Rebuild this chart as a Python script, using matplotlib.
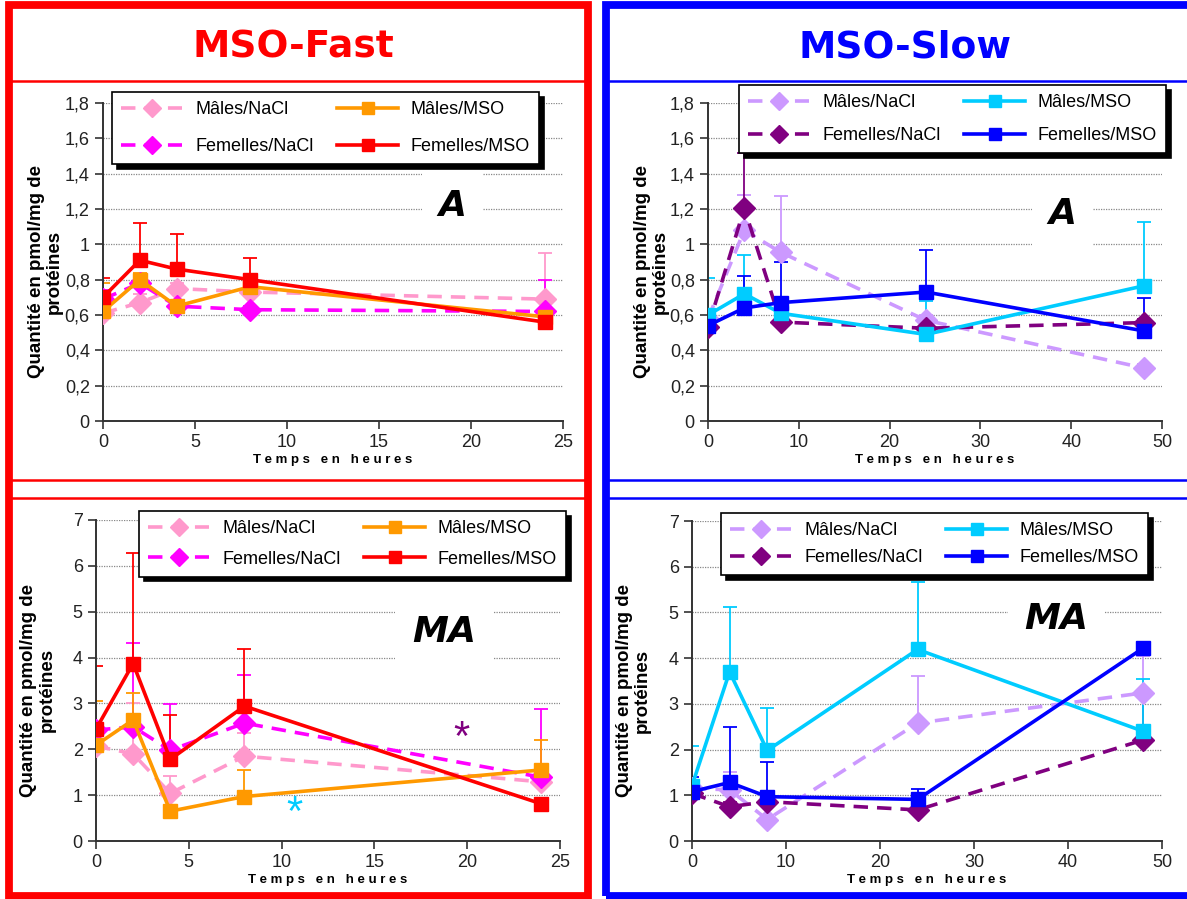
import matplotlib.pyplot as plt
from matplotlib.patches import Rectangle
from matplotlib.lines import Line2D
from matplotlib.ticker import FuncFormatter

plt.rcParams['font.family'] = ['Liberation Sans', 'DejaVu Sans']

labels = ['Mâles/NaCl', 'Femelles/NaCl', 'Mâles/MSO', 'Femelles/MSO']

# MSO-Fast: temps en heures
t_fast = [0, 2, 4, 8, 24]
# MSO-Slow
t_slow = [0, 4, 8, 24, 48]

# A, MSO-Fast (moyenne, erreur haute)
fast_A_m_nacl = [0.61, 0.67, 0.75, 0.73, 0.69]
fast_A_m_nacl_err = [0.04, 0.05, 0.03, 0.03, 0.26]
fast_A_f_nacl = [0.69, 0.78, 0.65, 0.63, 0.62]
fast_A_f_nacl_err = [0.05, 0.04, 0.03, 0.02, 0.18]
fast_A_m_mso = [0.62, 0.80, 0.65, 0.76, 0.59]
fast_A_m_mso_err = [0.16, 0.04, 0.03, 0.03, 0.02]
fast_A_f_mso = [0.70, 0.91, 0.86, 0.80, 0.56]
fast_A_f_mso_err = [0.11, 0.21, 0.20, 0.12, 0.02]

# A, MSO-Slow
slow_A_m_nacl = [0.58, 1.08, 0.955, 0.57, 0.30]
slow_A_m_nacl_err = [0.02, 0.20, 0.32, 0.03, 0.02]
slow_A_f_nacl = [0.53, 1.205, 0.56, 0.525, 0.557]
slow_A_f_nacl_err = [0.02, 0.31, 0.02, 0.02, 0.02]
slow_A_m_mso = [0.60, 0.72, 0.61, 0.49, 0.765]
slow_A_m_mso_err = [0.21, 0.22, 0.02, 0.19, 0.36]
slow_A_f_mso = [0.54, 0.64, 0.67, 0.73, 0.51]
slow_A_f_mso_err = [0.02, 0.18, 0.23, 0.24, 0.185]

# MA, MSO-Fast
fast_MA_m_nacl = [2.07, 1.90, 1.04, 1.85, 1.29]
fast_MA_m_nacl_err = [0.10, 1.12, 0.38, 0.50, 0.30]
fast_MA_f_nacl = [2.42, 2.49, 1.98, 2.57, 1.39]
fast_MA_f_nacl_err = [0.10, 1.82, 1.01, 1.04, 1.48]
fast_MA_m_mso = [2.09, 2.64, 0.65, 0.97, 1.55]
fast_MA_m_mso_err = [0.97, 0.58, 0.10, 0.58, 0.65]
fast_MA_f_mso = [2.44, 3.87, 1.78, 2.94, 0.81]
fast_MA_f_mso_err = [1.38, 2.40, 0.97, 1.25, 0.10]

# MA, MSO-Slow
slow_MA_m_nacl = [1.15, 1.12, 0.47, 2.58, 3.24]
slow_MA_m_nacl_err = [0.10, 0.40, 0.10, 1.02, 0.80]
slow_MA_f_nacl = [1.04, 0.75, 0.86, 0.68, 2.21]
slow_MA_f_nacl_err = [0.10, 0.10, 0.10, 0.10, 1.00]
slow_MA_m_mso = [1.21, 3.70, 1.98, 4.19, 2.40]
slow_MA_m_mso_err = [0.86, 1.41, 0.94, 1.47, 1.15]
slow_MA_f_mso = [1.08, 1.28, 0.97, 0.91, 4.22]
slow_MA_f_mso_err = [0.33, 1.21, 0.75, 0.22, 0.10]

fast_colors = ['#FF99CC', '#FF00FF', '#FF9900', '#FF0000']
slow_colors = ['#CC99FF', '#800080', '#00CCFF', '#0000FF']
styles = [('D', (0, (4, 2.5))), ('D', (0, (4, 2.5))), ('s', '-'), ('s', '-')]


def comma(v, pos):
    s = f'{v:g}'
    return s.replace('.', ',')


def panel(rect, t, series, errs, colors, ylim, yticks, xticks, letter, letter_xy,
          leg_anchor, leg_space):
    ax = fig.add_axes(rect)
    for (y, e, c, (mk, ls), lab) in zip(series, errs, colors, styles, labels):
        ax.errorbar(t, y, yerr=[[0] * len(e), e], fmt='none', ecolor=c,
                    elinewidth=1.3, capsize=5, capthick=1.3, zorder=2)
        ax.plot(t, y, color=c, ls=ls, lw=2.6, marker=mk,
                ms=11 if mk == 'D' else 10, label=lab, zorder=3)
    ax.set_ylim(*ylim)
    ax.set_xlim(xticks[0], xticks[-1])
    ax.set_yticks(yticks)
    ax.set_xticks(xticks)
    ax.yaxis.set_major_formatter(FuncFormatter(comma))
    ax.grid(axis='y', color='#888888', ls=(0, (1, 1)), lw=0.9)
    ax.set_axisbelow(True)
    for s in ['top', 'right']:
        ax.spines[s].set_visible(False)
    for s in ['left', 'bottom']:
        ax.spines[s].set_color('#333333')
        ax.spines[s].set_linewidth(1.4)
    ax.tick_params(labelsize=13, length=6, width=1.2, color='#333333',
                   labelcolor='#222222')
    ax.set_xlabel('T e m p s   e n   h e u r e s', fontsize=9.5, fontweight='bold',
                  labelpad=2)
    ax.set_ylabel('Quantité en pmol/mg de\nprotéines', fontsize=13.5,
                  fontweight='bold', va='center', linespacing=1.1)
    ax.yaxis.set_label_coords(-0.125, 0.47)
    ax.text(letter_xy[0], letter_xy[1], letter, transform=ax.transAxes,
            fontsize=26, fontweight='bold', fontstyle='italic',
            family='DejaVu Sans', ha='center', va='center', zorder=1,
            bbox=dict(facecolor='white', edgecolor='none', pad=12))
    leg = ax.legend(ncol=2, loc='upper left', bbox_to_anchor=leg_anchor,
                    bbox_transform=fig.transFigure, fontsize=13,
                    fancybox=False, edgecolor='black', framealpha=1,
                    shadow={'color': 'black', 'alpha': 1, 'ox': 3.5, 'oy': -3.5},
                    handlelength=3.4, handletextpad=0.7, columnspacing=1.3,
                    borderpad=0.5, labelspacing=leg_space, borderaxespad=0,
                    markerscale=0.85)
    leg.get_frame().set_linewidth(1.2)
    leg.set_zorder(5)
    return ax


fig = plt.figure(figsize=(11.87, 8.99), dpi=100)
W, H = 1187, 899


def fr(x0, y0, x1, y1):
    return [x0 / W, 1 - y1 / H, (x1 - x0) / W, (y1 - y0) / H]


ax1 = panel(fr(103, 103, 563, 421), t_fast,
            [fast_A_m_nacl, fast_A_f_nacl, fast_A_m_mso, fast_A_f_mso],
            [fast_A_m_nacl_err, fast_A_f_nacl_err, fast_A_m_mso_err, fast_A_f_mso_err],
            fast_colors, (0, 1.8), [0, 0.2, 0.4, 0.6, 0.8, 1, 1.2, 1.4, 1.6, 1.8],
            [0, 5, 10, 15, 20, 25], 'A', (0.76, 0.675), (112 / W, 1 - 92 / H), 1.1)

ax2 = panel(fr(708, 103, 1162, 421), t_slow,
            [slow_A_m_nacl, slow_A_f_nacl, slow_A_m_mso, slow_A_f_mso],
            [slow_A_m_nacl_err, slow_A_f_nacl_err, slow_A_m_mso_err, slow_A_f_mso_err],
            slow_colors, (0, 1.8), [0, 0.2, 0.4, 0.6, 0.8, 1, 1.2, 1.4, 1.6, 1.8],
            [0, 10, 20, 30, 40, 50], 'A', (0.78, 0.65), (739 / W, 1 - 85 / H), 0.9)

ax3 = panel(fr(96, 520, 560, 841), t_fast,
            [fast_MA_m_nacl, fast_MA_f_nacl, fast_MA_m_mso, fast_MA_f_mso],
            [fast_MA_m_nacl_err, fast_MA_f_nacl_err, fast_MA_m_mso_err, fast_MA_f_mso_err],
            fast_colors, (0, 7), [0, 1, 2, 3, 4, 5, 6, 7],
            [0, 5, 10, 15, 20, 25], 'MA', (0.75, 0.65), (139 / W, 1 - 511 / H), 0.75)
ax3.text(19.7, 2.22, '*', color='#800080', fontsize=30, ha='center', va='center')
ax3.text(10.7, 0.60, '*', color='#00CCFF', fontsize=30, ha='center', va='center')

ax4 = panel(fr(692, 521, 1162, 841), t_slow,
            [slow_MA_m_nacl, slow_MA_f_nacl, slow_MA_m_mso, slow_MA_f_mso],
            [slow_MA_m_nacl_err, slow_MA_f_nacl_err, slow_MA_m_mso_err, slow_MA_f_mso_err],
            slow_colors, (0, 7), [0, 1, 2, 3, 4, 5, 6, 7],
            [0, 10, 20, 30, 40, 50], 'MA', (0.775, 0.695), (721 / W, 1 - 513 / H), 0.55)

# cadres
for (x0, x1, col) in [(9.5, 588, '#FF0000'), (605.5, 1190, '#0000FF')]:
    fig.add_artist(Rectangle((x0 / W, 3.5 / H), (x1 - x0) / W, (896 - 5.5) / H,
                             transform=fig.transFigure, fill=False,
                             edgecolor=col, lw=5.6, zorder=10))
    for yl in [81, 480, 498]:
        fig.add_artist(Line2D([x0 / W, x1 / W], [1 - yl / H, 1 - yl / H],
                              transform=fig.transFigure, color=col, lw=1.8,
                              zorder=10))

fig.text(293 / W, 1 - 48 / H, 'MSO-Fast', color='#FF0000', fontsize=27,
         fontweight='bold', family='DejaVu Sans', ha='center', va='center')
fig.text(905 / W, 1 - 48 / H, 'MSO-Slow', color='#0000FF', fontsize=27,
         fontweight='bold', family='DejaVu Sans', ha='center', va='center')

fig.savefig('out.png', dpi=100)
